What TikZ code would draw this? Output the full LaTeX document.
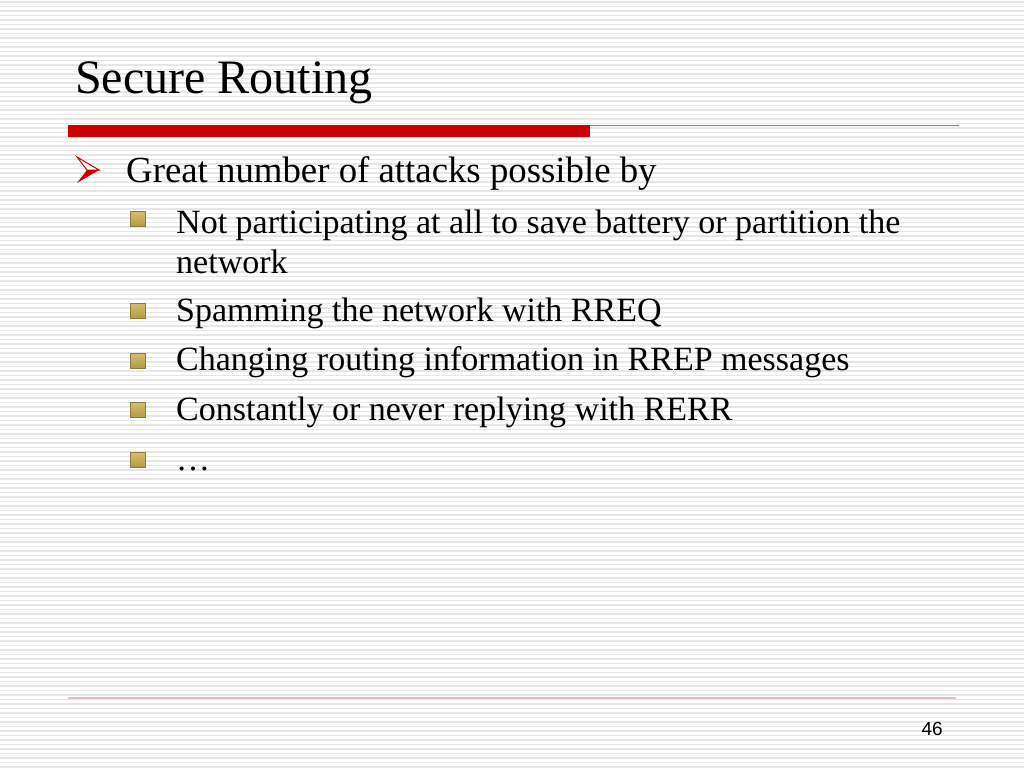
\documentclass[tikz,border=0pt]{standalone}
\usepackage{fontspec}
\setmainfont{Liberation Serif}
\newfontfamily\numfont{Liberation Sans}
\definecolor{slidered}{RGB}{204,0,0}
\definecolor{thinred}{RGB}{200,95,95}
\definecolor{footline}{RGB}{220,190,190}
\definecolor{stripegray}{RGB}{230,230,230}
\definecolor{bulletgold}{RGB}{180,152,66}
\definecolor{bulletlight}{RGB}{214,190,110}

\begin{document}
\begin{tikzpicture}[x=1pt, y=-1pt,
  stripe/.style={stripegray, line width=1.3pt},
  item/.style={anchor=base west, inner sep=0pt, font=\fontsize{34}{40}\selectfont},
  bulletsq/.style={top color=bulletlight, bottom color=bulletgold, draw=bulletgold!80!black, line width=0.3pt}]
  \useasboundingbox (0,0) rectangle (1024,768);
  \fill[white] (0,0) rectangle (1024,768);
  \foreach \y in {2,6.5,...,768} \draw[stripe] (0,\y) -- (1024,\y);

  % title and rules
  \node[anchor=base west, inner sep=0pt, font=\fontsize{48}{52}\selectfont] (title) at (75,93) {Secure Routing};
  \fill[slidered] (68,125) rectangle (590,137);
  \draw[thinred, line width=1.6pt] (590,125.5) -- (959,125.5);
  \draw[footline, line width=1.2pt] (68,698) -- (956,698);

  % first level
  \filldraw[draw=slidered, fill=white, line width=1pt, line join=miter] (77,157) -- (99,170) -- (87,170) -- cycle;
  \fill[slidered] (87,170) -- (99,170) -- (77,183) -- cycle;
  \node[anchor=base west, inner sep=0pt, font=\fontsize{36.8}{40}\selectfont] (attacks) at (126,182) {Great number of attacks possible by};

  % second level
  \foreach \c in {219,311,361,410,460} \shade[bulletsq] (130,\c-7.5) rectangle (145,\c+7.5);
  \node[item] (silent) at (176,233) {Not participating at all to save battery or partition the};
  \node[item] (silent2) at (176,273) {network};
  \node[item] (spam) at (176,321) {Spamming the network with RREQ};
  \node[item] (change) at (176,370) {Changing routing information in RREP messages};
  \node[item] (rerr) at (176,420) {Constantly or never replying with RERR};
  \node[item] (more) at (176,470) {…};

  \node[anchor=base east, inner sep=0pt, font=\numfont\fontsize{19}{22}\selectfont] (pagenum) at (943,735) {46};
\end{tikzpicture}
\end{document}
